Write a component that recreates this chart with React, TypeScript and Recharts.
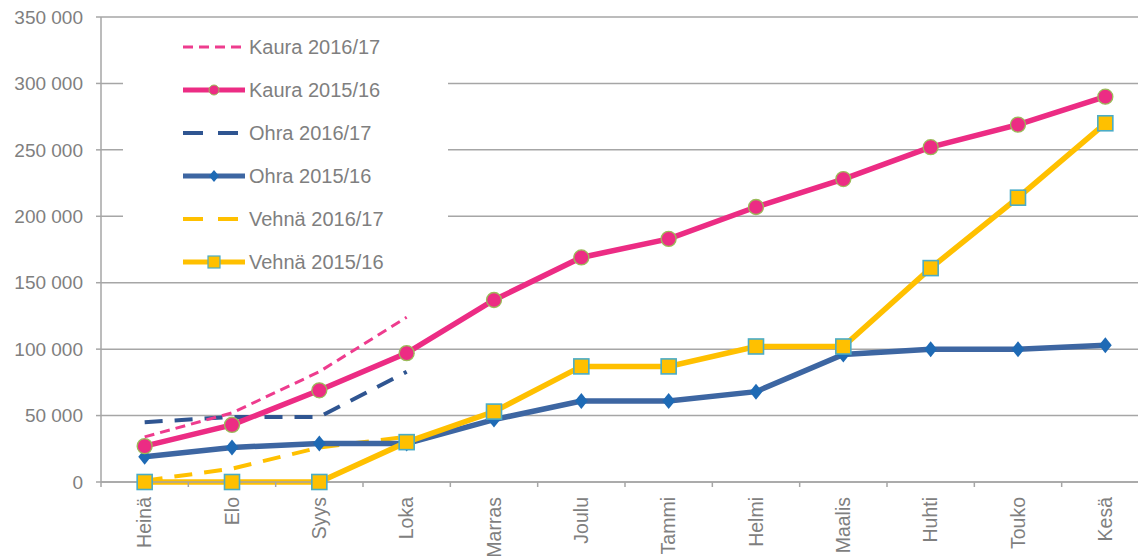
import { LineChart, Line, XAxis, YAxis, CartesianGrid, Legend } from 'recharts'

const months = ['Heinä', 'Elo', 'Syys', 'Loka', 'Marras', 'Joulu', 'Tammi', 'Helmi', 'Maalis', 'Huhti', 'Touko', 'Kesä']

// 2016/17 only has the first four months
const kaura1617 = [34000, 52000, 83000, 124000]
const kaura1516 = [27000, 43000, 69000, 97000, 137000, 169000, 183000, 207000, 228000, 252000, 269000, 290000]
const ohra1617 = [45000, 49000, 49000, 83000]
const ohra1516 = [19000, 26000, 29000, 29000, 47000, 61000, 61000, 68000, 96000, 100000, 100000, 103000]
const vehna1617 = [1000, 10000, 26000, 34000]
const vehna1516 = [0, 0, 0, 30000, 53000, 87000, 87000, 102000, 102000, 161000, 214000, 270000]

const yTicks = [0, 50000, 100000, 150000, 200000, 250000, 300000, 350000]

const data = months.map((m, i) => ({
  month: m,
  kaura1617: kaura1617[i] ?? null,
  kaura1516: kaura1516[i],
  ohra1617: ohra1617[i] ?? null,
  ohra1516: ohra1516[i],
  vehna1617: vehna1617[i] ?? null,
  vehna1516: vehna1516[i],
}))

const PINK = '#EC2C84'
const PINK_DASH = '#EE3C8E'
const BLUE = '#3D66A2'
const BLUE_DOT = '#1E6AB5'
const NAVY_DASH = '#2F5591'
const YELLOW = '#FFC000'
const TEAL = '#4BACC6'
const OLIVE = '#9BBB59'
const GRID = '#A6A6A6'
const TEXT = '#7F7F7F'
const FONT = '"Liberation Sans", Arial, sans-serif'

const CHART_W = 1150
const CHART_H = 556
const YAXIS_W = 101
const MARGIN = { top: 17, right: 1, left: 0, bottom: 0 }
const HALF_BAND = (CHART_W - YAXIS_W - MARGIN.right - MARGIN.left) / months.length / 2

const fmt = (v: number) => String(v).replace(/\B(?=(\d{3})+(?!\d))/g, ' ')

const Circle = (props: any) => {
  const { cx, cy } = props
  if (cx == null || cy == null) return null
  return <circle cx={cx} cy={cy} r={7.5} fill={PINK} stroke={OLIVE} strokeWidth={1.3} />
}

const Diamond = (props: any) => {
  const { cx, cy } = props
  if (cx == null || cy == null) return null
  const s = 8
  return <polygon points={`${cx},${cy - s} ${cx + s * 0.8},${cy} ${cx},${cy + s} ${cx - s * 0.8},${cy}`} fill={BLUE_DOT} />
}

const Square = (props: any) => {
  const { cx, cy } = props
  if (cx == null || cy == null) return null
  return <rect x={cx - 7.5} y={cy - 7.5} width={15} height={15} fill={YELLOW} stroke={TEAL} strokeWidth={1.6} />
}

const XTick = ({ x, y, payload }: any) => (
  <g>
    <line x1={x - HALF_BAND} y1={y} x2={x - HALF_BAND} y2={y + 5} stroke={GRID} strokeWidth={1.5} />
    <text
      transform={`translate(${x},${y + 15}) rotate(-90)`}
      textAnchor="end"
      dy="0.35em"
      fill={TEXT}
      fontSize={19.5}
      fontFamily={FONT}
    >
      {payload.value}
    </text>
  </g>
)

const legendItems = [
  { label: 'Kaura 2016/17', color: PINK_DASH, width: 3, dash: '10 6', marker: null },
  { label: 'Kaura 2015/16', color: PINK, width: 5, dash: undefined, marker: 'circle' },
  { label: 'Ohra 2016/17', color: NAVY_DASH, width: 4, dash: '20 15', marker: null },
  { label: 'Ohra 2015/16', color: BLUE, width: 5, dash: undefined, marker: 'diamond' },
  { label: 'Vehnä 2016/17', color: YELLOW, width: 4, dash: '20 15', marker: null },
  { label: 'Vehnä 2015/16', color: YELLOW, width: 5, dash: undefined, marker: 'square' },
]

const LegendBox = () => (
  <div>
    {legendItems.map((it) => (
      <div key={it.label} style={{ height: 43, display: 'flex', alignItems: 'center' }}>
        <svg width={66} height={20} style={{ marginLeft: 60, display: 'block' }}>
          <line x1={0} y1={10} x2={62} y2={10} stroke={it.color} strokeWidth={it.width} strokeDasharray={it.dash} />
          {it.marker === 'circle' && <circle cx={31} cy={10} r={5} fill={PINK} stroke={OLIVE} strokeWidth={1} />}
          {it.marker === 'diamond' && <polygon points="31,4 36,10 31,16 26,10" fill={BLUE_DOT} />}
          {it.marker === 'square' && <rect x={25} y={4} width={12} height={12} fill={YELLOW} stroke={TEAL} strokeWidth={1.2} />}
        </svg>
        <span style={{ color: TEXT, fontSize: 20, fontFamily: FONT, lineHeight: 1 }}>{it.label}</span>
      </div>
    ))}
  </div>
)

export default function App() {
  return (
    <div style={{ position: 'absolute', left: 0, top: 0, width: 1138, height: 556, overflow: 'hidden', background: '#fff' }}>
      <LineChart width={CHART_W} height={CHART_H} data={data} margin={MARGIN}>
        <CartesianGrid vertical={false} stroke={GRID} strokeWidth={1.5} />
        <XAxis
          dataKey="month"
          scale="band"
          interval={0}
          height={CHART_H - 482}
          stroke={GRID}
          strokeWidth={1.5}
          tickLine={false}
          tickSize={0}
          tickMargin={0}
          tick={<XTick />}
        />
        <YAxis
          width={YAXIS_W}
          domain={[0, 350000]}
          ticks={yTicks}
          tickFormatter={fmt}
          stroke={GRID}
          strokeWidth={1.5}
          tickSize={5}
          tickMargin={13}
          tick={{ fill: TEXT, fontSize: 19, fontFamily: FONT }}
        />
        <Legend
          layout="vertical"
          align="center"
          verticalAlign="middle"
          content={<LegendBox />}
          wrapperStyle={{ position: 'absolute', left: 123, top: 25, width: 325, height: 252, background: '#fff' }}
        />
        <Line dataKey="vehna1617" stroke={YELLOW} strokeWidth={4} strokeDasharray="18 12" dot={false} connectNulls={false} isAnimationActive={false} />
        <Line dataKey="ohra1617" stroke={NAVY_DASH} strokeWidth={4} strokeDasharray="18 12" dot={false} connectNulls={false} isAnimationActive={false} />
        <Line dataKey="kaura1617" stroke={PINK_DASH} strokeWidth={3} strokeDasharray="10 6" dot={false} connectNulls={false} isAnimationActive={false} />
        <Line dataKey="ohra1516" stroke={BLUE} strokeWidth={5.5} dot={<Diamond />} isAnimationActive={false} />
        <Line dataKey="kaura1516" stroke={PINK} strokeWidth={5.5} dot={<Circle />} isAnimationActive={false} />
        <Line dataKey="vehna1516" stroke={YELLOW} strokeWidth={5.5} dot={<Square />} isAnimationActive={false} />
      </LineChart>
    </div>
  )
}
